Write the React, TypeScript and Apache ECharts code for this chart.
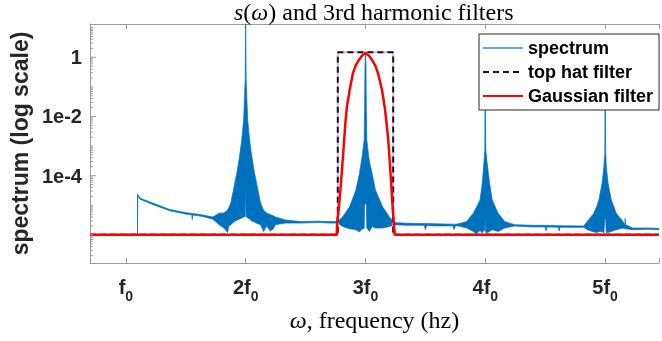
import React, { useEffect, useRef } from 'react';
import * as echarts from 'echarts';

// ---- axes ----
const xTickValues = [1, 2, 3, 4, 5];
const xTickLabels = ['f', '2f', '3f', '4f', '5f'];
const xTickSub = '0';
const yTickValues = [1e-4, 1e-2, 1];
const yTickLabels = ['1e-4', '1e-2', '1'];
const xRange = [0.7, 5.45];
const yRange = [1.12e-7, 13.3];

// ---- spectrum envelope: x, upper value, lower value ----
const specX = [
  1.097, 1.1, 1.118, 1.229, 1.366, 1.504, 1.55, 1.554, 1.558, 1.642, 1.725, 1.779, 1.818, 1.849, 1.86, 1.876,
  1.903, 1.931, 1.953, 1.967, 1.983, 1.996, 2.0, 2.004, 2.017, 2.033, 2.047, 2.069, 2.097, 2.124, 2.149, 2.174,
  2.207, 2.231, 2.248, 2.331, 2.455, 2.6, 2.7, 2.769, 2.81, 2.868, 2.92, 2.95, 2.972, 2.989, 2.993, 2.996, 3.0,
  3.004, 3.007, 3.011, 3.027, 3.033, 3.055, 3.083, 3.143, 3.198, 3.24, 3.35, 3.49, 3.5, 3.51, 3.6, 3.73, 3.74,
  3.75, 3.777, 3.845, 3.9, 3.926, 3.956, 3.975, 3.986, 3.996, 4.0, 4.004, 4.019, 4.036, 4.058, 4.107, 4.163,
  4.245, 4.4, 4.5, 4.507, 4.514, 4.61, 4.617, 4.624, 4.822, 4.851, 4.906, 4.934, 4.948, 4.975, 4.99, 4.998, 5.0,
  5.005, 5.01, 5.025, 5.052, 5.093, 5.149, 5.165, 5.168, 5.171, 5.231, 5.35, 5.45,
];
const specHi = [
  2.3e-5, 2.3e-5, 1.74e-5, 1.17e-5, 7.2e-6, 5.6e-6, 5.3e-6, 5.3e-6, 5.3e-6, 4.7e-6, 4.0e-6, 5.4e-6, 5.5e-6, 6.9e-6, 8.5e-6, 1.2e-5,
  4.2e-5, 1.55e-4, 5.8e-4, 1.6e-3, 7.6e-3, 0.17, 20, 0.17, 7.6e-3, 1.6e-3, 5.8e-4, 1.55e-4, 4.2e-5, 1.2e-5, 6.9e-6, 5.5e-6,
  4.8e-6, 4.4e-6, 4.0e-6, 3.2e-6, 2.8e-6, 2.9e-6, 2.8e-6, 2.8e-6, 4.1e-6, 8.9e-6, 3.3e-5, 1.2e-4, 4.4e-4, 1.6e-3, 2.0e-2, 0.55, 1.4,
  0.55, 2.0e-2, 1.6e-3, 4.4e-4, 3.0e-4, 1.2e-4, 3.3e-5, 8.9e-6, 4.1e-6, 2.6e-6, 2.45e-6, 2.4e-6, 2.4e-6, 2.4e-6, 2.35e-6, 2.3e-6, 2.3e-6,
  2.3e-6, 2.35e-6, 2.8e-6, 5.4e-6, 8.5e-6, 1.5e-5, 5.5e-5, 2.0e-4, 7.4e-4, 1.2, 7.4e-4, 2.0e-4, 5.5e-5, 1.5e-5, 5.4e-6, 2.8e-6,
  2.2e-6, 2.1e-6, 2.1e-6, 2.1e-6, 2.1e-6, 2.05e-6, 2.05e-6, 2.05e-6, 2.0e-6, 2.8e-6, 5.4e-6, 1.0e-5, 1.5e-5, 5.5e-5, 2.0e-4, 6e-4, 0.8,
  6e-4, 2.0e-4, 5.5e-5, 1.5e-5, 5.4e-6, 2.8e-6, 2.2e-6, 3.6e-6, 2.2e-6, 1.7e-6, 1.7e-6, 1.65e-6,
];
const specLo = [
  1.05e-6, 2.0e-5, 1.6e-5, 1.05e-5, 6.5e-6, 5.0e-6, 4.8e-6, 3.3e-6, 4.7e-6, 4.2e-6, 3.4e-6, 2.2e-6, 1.7e-6, 1.2e-6, 2.0e-6, 2.2e-6,
  2.75e-6, 3.2e-6, 3.5e-6, 3.7e-6, 4.0e-6, 4.2e-6, 4.9e-5, 4.2e-6, 3.7e-6, 3.4e-6, 3.0e-6, 2.75e-6, 2.4e-6, 2.2e-6, 1.3e-6, 2.0e-6,
  1.35e-6, 1.6e-6, 2.2e-6, 2.5e-6, 2.5e-6, 2.6e-6, 2.5e-6, 2.5e-6, 1.9e-6, 1.6e-6, 1.5e-6, 1.25e-6, 1.6e-6, 1.6e-6, 1.1e-5, 1.1e-5, 1.1e-5,
  1.1e-5, 1.1e-5, 1.7e-6, 1.4e-6, 1.3e-6, 1.9e-6, 1.7e-6, 1.7e-6, 1.9e-6, 2.2e-6, 2.1e-6, 2.1e-6, 1.5e-6, 2.05e-6, 2.0e-6, 2.0e-6, 1.5e-6,
  2.0e-6, 2.0e-6, 1.7e-6, 1.3e-6, 1.1e-6, 1.4e-6, 1.15e-6, 1.4e-6, 1.4e-6, 4e-6, 1.2e-6, 1.2e-6, 1.3e-6, 1.5e-6, 1.3e-6, 1.7e-6,
  2.0e-6, 1.85e-6, 1.85e-6, 1.35e-6, 1.85e-6, 1.8e-6, 1.35e-6, 1.8e-6, 1.8e-6, 1.5e-6, 1.25e-6, 1.2e-6, 1.3e-6, 1.3e-6, 1.15e-6, 3.6e-6, 3.6e-6,
  3.6e-6, 1.2e-6, 1.2e-6, 1.3e-6, 1.5e-6, 1.7e-6, 1.6e-6, 1.6e-6, 1.6e-6, 1.5e-6, 1.55e-6, 1.5e-6,
];

// ---- filters ----
const hatX = [0.7, 2.769, 2.769, 3.231, 3.231, 5.45];
const hatY = [1e-6, 1e-6, 1.47, 1.47, 1e-6, 1e-6];
const gaussX = [
  0.7, 2.76, 2.763, 2.779, 2.802, 2.822, 2.832, 2.845, 2.868, 2.895, 2.917, 2.945, 2.972, 3.0,
  3.028, 3.055, 3.083, 3.105, 3.138, 3.16, 3.176, 3.19, 3.209, 3.226, 3.237, 3.245, 5.45,
];
const gaussY = [
  1e-6, 1e-6, 2.5e-6, 8.9e-6, 1.23e-4, 1.6e-3, 5.9e-3, 0.0214, 0.0785, 0.288, 0.51, 0.81, 1.15, 1.4,
  1.15, 0.81, 0.51, 0.288, 0.0785, 0.0214, 5.9e-3, 1.6e-3, 1.23e-4, 8.9e-6, 2.5e-6, 1e-6, 1e-6,
];

const axisColor = '#9a9a9a';
const textColor = '#262626';
const sans = 'Liberation Sans';
const serif = 'Liberation Serif';

export default function App() {
  const ref = useRef<HTMLDivElement>(null);
  useEffect(() => {
    const chart = echarts.init(ref.current!, null, { renderer: 'svg' });

    // axis tick marks for the log axis (decoration of the axis, MATLAB style)
    const yTicks: number[][] = [];
    for (let k = -7; k <= 1; k++) {
      for (let m = 1; m <= 9; m++) {
        const v = m * Math.pow(10, k);
        if (v < yRange[0] || v > yRange[1]) continue;
        const major = yTickValues.some((t) => Math.abs(Math.log10(t) - Math.log10(v)) < 1e-6);
        yTicks.push([xRange[0], v, major ? 6 : 3]);
      }
    }

    const findIdx = (arr: number[], v: number, useLog: boolean) =>
      arr.findIndex((t) => (useLog ? Math.abs(Math.log10(t) - Math.log10(v)) < 1e-6 : Math.abs(t - v) < 1e-6));

    const option: any = {
      animation: false,
      title: {
        text: '{i|s}({i|ω}) and 3rd harmonic filters',
        left: 234,
        top: 0,
        padding: 0,
        textStyle: {
          fontFamily: serif,
          fontSize: 24,
          fontWeight: 'normal',
          color: '#000',
          rich: { i: { fontFamily: serif, fontSize: 24, fontStyle: 'italic', color: '#000' } },
        },
      },
      legend: {
        orient: 'vertical',
        left: 479,
        top: 34,
        itemWidth: 40,
        itemHeight: 14,
        itemGap: 6,
        padding: [5, 6, 5, 3],
        backgroundColor: '#fff',
        borderColor: '#262626',
        borderWidth: 1,
        selectedMode: false,
        itemStyle: { color: 'rgba(0,0,0,0)', borderColor: 'rgba(0,0,0,0)', borderWidth: 0 },
        textStyle: { fontFamily: sans, fontSize: 18, fontWeight: 'bold', color: '#000' },
        data: [{ name: 'spectrum' }, { name: 'top hat filter' }, { name: 'Gaussian filter' }],
      },
      grid: { left: 88, top: 24, width: 575, height: 239, containLabel: false },
      xAxis: [
        {
          type: 'value',
          min: xRange[0],
          max: xRange[1],
          splitNumber: 5,
          splitLine: { show: false },
          axisLine: { show: true, lineStyle: { color: axisColor, width: 1 } },
          axisTick: { show: true, inside: true, length: 5, lineStyle: { color: axisColor } },
          axisLabel: {
            margin: 14,
            formatter: (v: number) => {
              const i = findIdx(xTickValues, v, false);
              return i < 0 ? '' : `{b|${xTickLabels[i]}}{s|${xTickSub}}`;
            },
            rich: {
              b: { fontFamily: sans, fontSize: 20, fontWeight: 'bold', color: textColor, verticalAlign: 'top' },
              s: {
                fontFamily: sans,
                fontSize: 14,
                fontWeight: 'bold',
                color: textColor,
                verticalAlign: 'bottom',
                padding: [12, 0, 0, 0],
              },
            },
          },
          name: '{i|ω}, frequency (hz)',
          nameLocation: 'middle',
          nameGap: 44,
          nameTextStyle: {
            fontFamily: serif,
            fontSize: 24,
            color: '#000',
            rich: { i: { fontFamily: serif, fontSize: 24, fontStyle: 'italic', color: '#000' } },
          },
        },
        {
          type: 'value',
          position: 'top',
          min: xRange[0],
          max: xRange[1],
          splitNumber: 5,
          splitLine: { show: false },
          axisLine: { show: true, lineStyle: { color: axisColor, width: 1 } },
          axisTick: { show: true, inside: true, length: 5, lineStyle: { color: axisColor } },
          axisLabel: { show: false },
        },
      ],
      yAxis: {
        type: 'log',
        logBase: 10,
        min: yRange[0],
        max: yRange[1],
        splitLine: { show: false },
        axisLine: { show: true, lineStyle: { color: axisColor, width: 1 } },
        axisTick: { show: false },
        axisLabel: {
          margin: 8,
          fontFamily: sans,
          fontSize: 20,
          fontWeight: 'bold',
          color: textColor,
          formatter: (v: number) => {
            const i = findIdx(yTickValues, v, true);
            return i < 0 ? '' : yTickLabels[i];
          },
        },
        name: 'spectrum (log scale)',
        nameLocation: 'middle',
        nameGap: 50,
        nameTextStyle: { fontFamily: sans, fontSize: 23, fontWeight: 'bold', color: textColor },
      },
      series: [
        {
          type: 'custom',
          name: 'spectrumFill',
          coordinateSystem: 'cartesian2d',
          silent: true,
          z: 2,
          data: [[specX[0], specHi[0]]],
          renderItem: (params: any, api: any) => {
            const cs = params.coordSys;
            const pts: number[][] = [];
            for (let i = 0; i < specX.length; i++) pts.push(api.coord([specX[i], specHi[i]]));
            for (let i = specX.length - 1; i >= 0; i--) pts.push(api.coord([specX[i], specLo[i]]));
            const clamped = pts.map((p) => [p[0], Math.max(p[1], cs.y)]);
            return {
              type: 'polygon',
              shape: { points: clamped },
              style: { fill: '#0072BD', stroke: '#0072BD', lineWidth: 0.7 },
            };
          },
        },
        {
          type: 'line',
          name: 'spectrum',
          data: [],
          symbol: 'none',
          itemStyle: { color: '#5eaae4' },
          lineStyle: { color: '#5eaae4', width: 1.2 },
        },
        {
          type: 'line',
          name: 'hatUnder',
          data: hatX.map((x, i) => [x, hatY[i]]),
          symbol: 'none',
          z: 3,
          lineStyle: { color: '#d8bcda', width: 2 },
          itemStyle: { color: '#d8bcda' },
        },
        {
          type: 'line',
          name: 'top hat filter',
          data: hatX.map((x, i) => [x, hatY[i]]),
          symbol: 'none',
          z: 4,
          lineStyle: { color: '#1c1226', width: 2, type: [6, 4] },
          itemStyle: { color: '#1c1226' },
        },
        {
          type: 'line',
          name: 'Gaussian filter',
          data: gaussX.map((x, i) => [x, gaussY[i]]),
          symbol: 'none',
          z: 5,
          lineStyle: { color: '#ff0000', width: 2.5 },
          itemStyle: { color: '#ff0000' },
        },
        {
          type: 'custom',
          name: 'yTicks',
          coordinateSystem: 'cartesian2d',
          silent: true,
          z: 6,
          data: yTicks,
          renderItem: (params: any, api: any) => {
            const p = api.coord([api.value(0), api.value(1)]);
            const len = api.value(2);
            return {
              type: 'line',
              shape: { x1: p[0], y1: p[1], x2: p[0] + len, y2: p[1] },
              style: { stroke: axisColor, lineWidth: 1 },
            };
          },
        },
      ],
    };
    chart.setOption(option);
    return () => chart.dispose();
  }, []);
  return <div ref={ref} style={{ position: 'fixed', left: 0, top: 0, width: 662, height: 341 }} />;
}
